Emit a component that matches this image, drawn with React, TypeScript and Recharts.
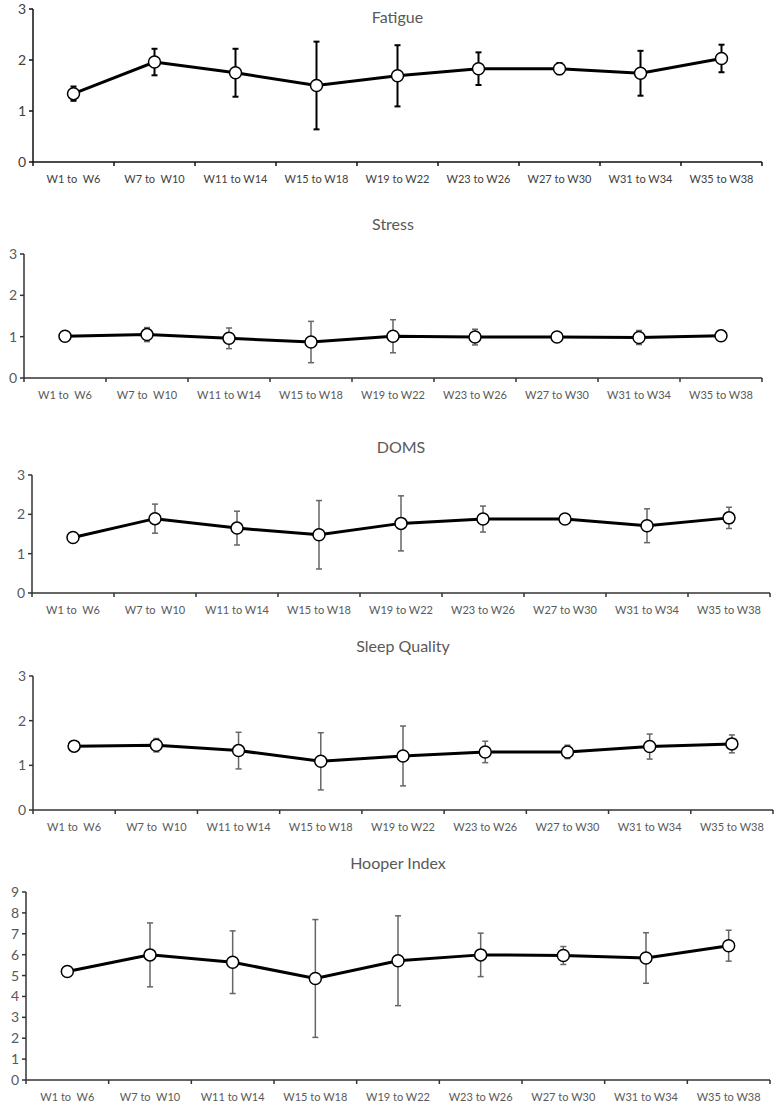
import { LineChart, Line, XAxis, YAxis, ErrorBar } from 'recharts';

const periods = [
  'W1 to  W6',
  'W7 to  W10',
  'W11 to W14',
  'W15 to W18',
  'W19 to W22',
  'W23 to W26',
  'W27 to W30',
  'W31 to W34',
  'W35 to W38',
];

const fatigueMean = [1.34, 1.96, 1.75, 1.5, 1.69, 1.83, 1.83, 1.74, 2.03];
const fatigueSd = [0.14, 0.26, 0.47, 0.86, 0.6, 0.32, 0.11, 0.44, 0.27];

const stressMean = [1.01, 1.05, 0.96, 0.87, 1.01, 0.99, 0.99, 0.98, 1.02];
const stressSd = [0.02, 0.17, 0.25, 0.5, 0.4, 0.19, 0.03, 0.17, 0.02];

const domsMean = [1.41, 1.89, 1.65, 1.48, 1.77, 1.88, 1.88, 1.71, 1.91];
const domsSd = [0.03, 0.37, 0.43, 0.87, 0.7, 0.33, 0.07, 0.43, 0.27];

const sleepMean = [1.43, 1.45, 1.33, 1.09, 1.21, 1.3, 1.3, 1.42, 1.48];
const sleepSd = [0.03, 0.15, 0.41, 0.64, 0.67, 0.24, 0.15, 0.28, 0.2];

const hooperMean = [5.19, 5.99, 5.64, 4.86, 5.71, 5.99, 5.96, 5.84, 6.43];
const hooperSd = [0.1, 1.53, 1.5, 2.82, 2.15, 1.04, 0.43, 1.21, 0.74];

const smallTicks = [0, 1, 2, 3];
const hooperTicks = [0, 1, 2, 3, 4, 5, 6, 7, 8, 9];

const FONT = 'Lato, "Open Sans", sans-serif';

interface PanelProps {
  title: string;
  mean: number[];
  sd: number[];
  yTicks: number[];
  plotLeft: number;
  plotRight: number;
  plotTop: number;
  plotBottom: number;
  titleY: number;
  dark?: boolean;
}

function Panel({ title, mean, sd, yTicks, plotLeft, plotRight, plotTop, plotBottom, titleY, dark }: PanelProps) {
  const data = periods.map((p, i) => ({ period: p, mean: mean[i], sd: sd[i] }));
  const topPad = 10;
  const axisH = 30;
  const chartH = plotBottom - plotTop + topPad + axisH;
  const band = (plotRight - plotLeft) / periods.length;
  const axisColor = dark ? '#111' : '#333';
  const labelColor = dark ? '#404040' : '#595959';

  // tick marks sit between categories, labels in the middle
  const renderTick = (props: any) => {
    const { x, y, payload, index } = props;
    return (
      <g>
        <line x1={x - band / 2} y1={y} x2={x - band / 2} y2={y + 4} stroke={axisColor} strokeWidth={1.5} />
        {index === periods.length - 1 && (
          <line x1={x + band / 2} y1={y} x2={x + band / 2} y2={y + 4} stroke={axisColor} strokeWidth={1.5} />
        )}
        <text
          x={x}
          y={y + 16}
          textAnchor="middle"
          dominantBaseline="central"
          fontSize={11}
          fill={labelColor}
          fontFamily={FONT}
          style={{ whiteSpace: 'pre' }}
        >
          {payload.value}
        </text>
      </g>
    );
  };

  return (
    <div style={{ position: 'absolute', left: 0, top: plotTop - topPad, width: 780, height: chartH }}>
      <LineChart
        width={780}
        height={chartH}
        data={data}
        margin={{ top: topPad, right: 780 - plotRight, bottom: 0, left: 0 }}
      >
        <XAxis
          dataKey="period"
          interval={0}
          height={axisH}
          padding={{ left: band / 2, right: band / 2 }}
          tickLine={false}
          tickSize={0}
          tickMargin={0}
          tick={renderTick}
          axisLine={{ stroke: axisColor, strokeWidth: 1.5 }}
        />
        <YAxis
          width={plotLeft}
          domain={[0, yTicks[yTicks.length - 1]]}
          ticks={yTicks}
          interval={0}
          tickSize={4}
          tickMargin={3}
          tickLine={{ stroke: axisColor, strokeWidth: 1.5 }}
          axisLine={{ stroke: axisColor, strokeWidth: 1.5 }}
          tick={{ fontSize: 14, fill: labelColor, fontFamily: FONT }}
        />
        <Line
          type="linear"
          dataKey="mean"
          stroke="#000"
          strokeWidth={3}
          dot={{ r: 6, fill: '#fff', stroke: '#000', strokeWidth: 1.5 }}
          activeDot={false}
          isAnimationActive={false}
        >
          <ErrorBar
            dataKey="sd"
            direction="y"
            width={3}
            stroke={dark ? '#000' : '#666'}
            strokeWidth={dark ? 2 : 1.5}
          />
        </Line>
      </LineChart>
      <div
        style={{
          position: 'absolute',
          left: plotLeft,
          width: plotRight - plotLeft,
          top: titleY - (plotTop - topPad) - 10,
          textAlign: 'center',
          fontSize: 16,
          lineHeight: '20px',
          color: '#595959',
          fontFamily: FONT,
        }}
      >
        {title}
      </div>
    </div>
  );
}

export default function App() {
  return (
    <div style={{ position: 'absolute', left: 0, top: 0, width: 780, height: 1106, background: '#fff' }}>
      <Panel title="Fatigue" mean={fatigueMean} sd={fatigueSd} yTicks={smallTicks}
        plotLeft={33} plotRight={762} plotTop={9} plotBottom={162} titleY={17} dark />
      <Panel title="Stress" mean={stressMean} sd={stressSd} yTicks={smallTicks}
        plotLeft={24} plotRight={762} plotTop={254} plotBottom={378} titleY={224} />
      <Panel title="DOMS" mean={domsMean} sd={domsSd} yTicks={smallTicks}
        plotLeft={32} plotRight={770} plotTop={475} plotBottom={593} titleY={447} />
      <Panel title="Sleep Quality" mean={sleepMean} sd={sleepSd} yTicks={smallTicks}
        plotLeft={33} plotRight={773} plotTop={676} plotBottom={810} titleY={646} />
      <Panel title="Hooper Index" mean={hooperMean} sd={hooperSd} yTicks={hooperTicks}
        plotLeft={26} plotRight={770} plotTop={892} plotBottom={1080} titleY={863} />
    </div>
  );
}
